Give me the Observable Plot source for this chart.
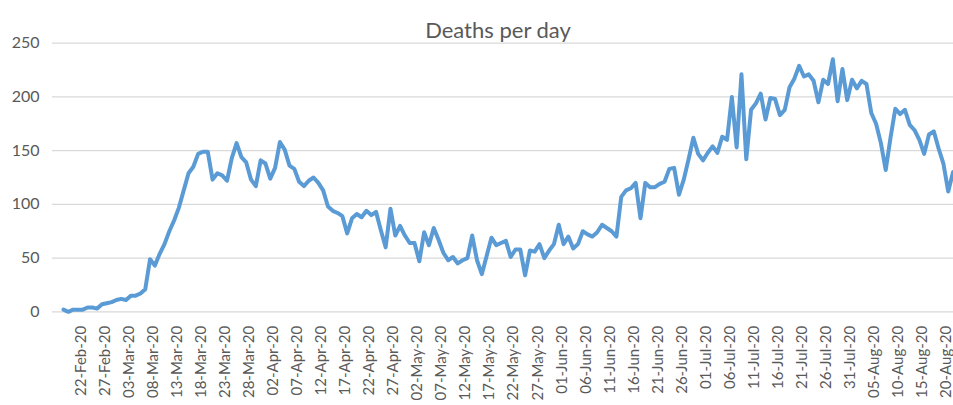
<!DOCTYPE html>
<html>
<head>
<meta charset="utf-8">
<script src="https://cdn.jsdelivr.net/npm/d3@7"></script>
<script src="https://cdn.jsdelivr.net/npm/@observablehq/plot@0.6"></script>
<style>
  html, body { margin: 0; padding: 0; background: #fff; }
  #chart svg { display: block; }
</style>
</head>
<body>
<div id="chart"></div>
<script>
// ---- data ----
const chartTitle = "Deaths per day";
const startDate = "2020-02-19"; // first category
const deaths = [
  // Feb 19 - Feb 29
  2, 0, 2, 2, 2, 4, 4, 3, 7, 8, 9,
  // Mar 1 - Mar 31
  11, 12, 11, 15, 15, 17, 21, 49, 43, 54, 63, 75, 85, 97, 113, 129, 135, 147, 149, 149,
  123, 129, 127, 122, 143, 157, 144, 139, 123, 117, 141,
  // Apr 1 - Apr 30
  138, 124, 134, 158, 151, 136, 133, 121, 117, 122, 125, 120, 113, 98, 94, 92, 89, 73, 87, 91,
  88, 94, 90, 93, 76, 60, 96, 71, 80, 71,
  // May 1 - May 31
  64, 64, 47, 74, 62, 78, 67, 55, 48, 51, 45, 48, 50, 71, 48, 35, 52, 69, 62, 64,
  66, 51, 58, 58, 34, 57, 56, 63, 50, 57, 63,
  // Jun 1 - Jun 30
  81, 63, 70, 59, 63, 75, 72, 70, 74, 81, 78, 75, 70, 107, 113, 115, 120, 87, 120, 116,
  116, 119, 121, 133, 134, 109, 123, 142, 162, 147,
  // Jul 1 - Jul 31
  141, 148, 154, 148, 163, 160, 200, 153, 221, 142, 188, 194, 203, 179, 199, 198, 183, 188, 209, 217,
  229, 219, 221, 215, 195, 216, 212, 235, 196, 226, 197,
  // Aug 1 - Aug 22
  216, 208, 215, 212, 185, 175, 157, 132, 162, 189, 184, 188, 174, 169, 160, 147, 165, 168, 152, 138,
  112, 130
];
const yTicks = [0, 50, 100, 150, 200, 250];
const xTickLabels = [
  "22-Feb-20", "27-Feb-20", "03-Mar-20", "08-Mar-20", "13-Mar-20", "18-Mar-20", "23-Mar-20",
  "28-Mar-20", "02-Apr-20", "07-Apr-20", "12-Apr-20", "17-Apr-20", "22-Apr-20", "27-Apr-20",
  "02-May-20", "07-May-20", "12-May-20", "17-May-20", "22-May-20", "27-May-20", "01-Jun-20",
  "06-Jun-20", "11-Jun-20", "16-Jun-20", "21-Jun-20", "26-Jun-20", "01-Jul-20", "06-Jul-20",
  "11-Jul-20", "16-Jul-20", "21-Jul-20", "26-Jul-20", "31-Jul-20", "05-Aug-20", "10-Aug-20",
  "15-Aug-20", "20-Aug-20"
];

// ---- build ----
const start = d3.utcParse("%Y-%m-%d")(startDate);
const parseTick = d3.utcParse("%d-%b-%y");
const rows = deaths.map((v, i) => ({date: d3.utcDay.offset(start, i), value: v}));
const end = rows[rows.length - 1].date;
const DAY = 864e5;

const textColor = "#595959";
const font = "Lato, 'Open Sans', sans-serif";

const chart = Plot.plot({
  width: 953,
  height: 405,
  marginLeft: 52,
  marginRight: 0,
  marginTop: 42.7,
  marginBottom: 93.7,
  style: {fontFamily: font, background: "#fff", overflow: "visible"},
  x: {type: "utc", domain: [new Date(+start - 2.29 * DAY), new Date(+end + 0.1 * DAY)], axis: null},
  y: {domain: [0, 250], axis: null},
  marks: [
    Plot.ruleY(yTicks, {stroke: "#d9d9d9", strokeWidth: 1.3}),
    Plot.text(yTicks, {
      y: d => d, frameAnchor: "left", dx: -13, textAnchor: "end",
      text: d => String(d), fill: textColor, fontSize: 16
    }),
    Plot.text(xTickLabels, {
      x: d => parseTick(d), frameAnchor: "bottom", dy: 14, dx: 3,
      rotate: -90, textAnchor: "end", lineAnchor: "middle",
      text: d => d, fill: textColor, fontSize: 15
    }),
    Plot.text([chartTitle], {
      frameAnchor: "top", dy: -21, dx: -5, text: d => d,
      fill: textColor, fontSize: 22
    }),
    Plot.line(rows, {
      x: "date", y: "value", stroke: "#5b9bd5", strokeWidth: 4,
      strokeLinejoin: "round", strokeLinecap: "round"
    })
  ]
});
document.getElementById("chart").appendChild(chart);
</script>
</body>
</html>
